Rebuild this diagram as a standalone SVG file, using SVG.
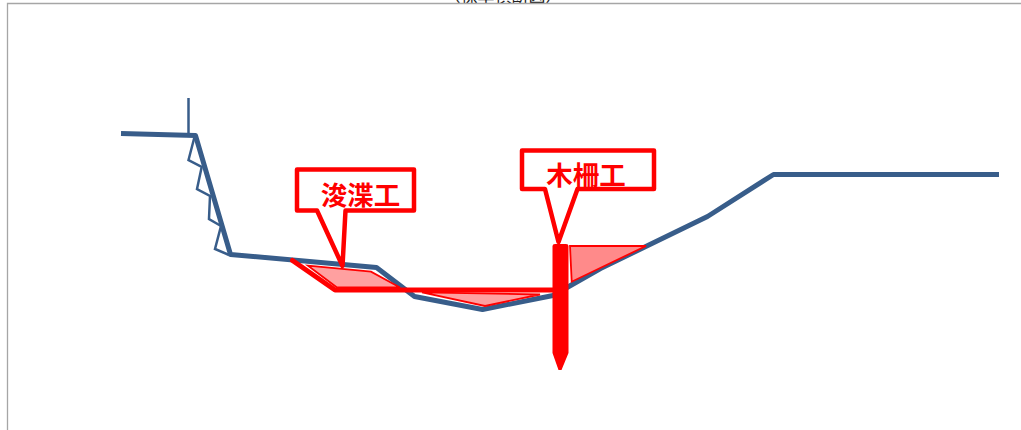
<svg xmlns="http://www.w3.org/2000/svg" width="1021" height="430" viewBox="0 0 1021 430">
<style>
.frame{fill:none;stroke:#a6a6a6;stroke-width:1.3}
.ground{fill:none;stroke:#385d8a;stroke-width:5;stroke-linejoin:round}
.thin{fill:none;stroke:#385d8a;stroke-width:2.500;stroke-linejoin:miter}
.area{stroke:#ff0000;stroke-width:1.8;stroke-linejoin:miter}
.dredge{fill:none;stroke:#ff0000;stroke-width:5;stroke-linejoin:round;stroke-linecap:round}
.call{fill:#ffffff;stroke:#ff0000;stroke-width:4.500;stroke-linejoin:round}
.label{font-family:"Noto Sans CJK JP","Noto Sans CJK SC",sans-serif;font-weight:700;font-size:26.500px;fill:#ff0000;text-anchor:middle}
.title{font-family:"Noto Sans CJK JP","Noto Sans CJK SC",sans-serif;font-size:17px;fill:#222222;text-anchor:middle}
</style>
<rect width="1021" height="430" fill="#ffffff"/>
<text class="title" x="503" y="2">（標準横断図）</text>
<path class="frame" d="M7.500 430V3.500H1021"/>
<g id="connectors">
<path class="thin" d="M188.500 98V135"/>
<path class="thin" d="M195 135L188.500 160L201.700 167L197 189L210 196L209 219L221 226L215 249L229 255"/>
<path class="ground" d="M121 133.500L195.500 135.500L230.500 254.500L376.500 267.500L414.500 296.500L482.500 309.500L553 295.500L600.500 268.500L707.500 216.500L773.500 174.500L999 174.500"/>
</g>
<g id="dredge-area">
<polygon class="area" fill="#ffa0a0" points="308,265.700 371,271.700 400,287.500 337,287.500"/>
<polygon class="area" fill="#ffa0a0" points="422,292.300 540,294.500 485,306"/>
<path class="dredge" d="M292.500 260.500L335 290H553"/>
</g>
<g id="fence-area">
<polygon class="area" fill="#ff8a8a" points="570,246 646,246 571.700,281.700"/>
</g>
<g id="stake">
<path d="M555 244H566Q568.500 244 568.500 246V353L561.500 370H558.500L552.500 353V246Q552.500 244 555 244Z" fill="#ff0000"/>
</g>
<g id="callout-dredging">
<path class="call" d="M297 169.500H414V210.500H345.500L342.500 266L317 210.500H297Z"/>
<text class="label" x="360.500" y="204.500">浚渫工</text>
</g>
<g id="callout-fence">
<path class="call" d="M522 150.500H654V189H577.500L558.500 242L545 189H522Z"/>
<text class="label" x="586" y="184.500">木柵工</text>
</g>
</svg>
